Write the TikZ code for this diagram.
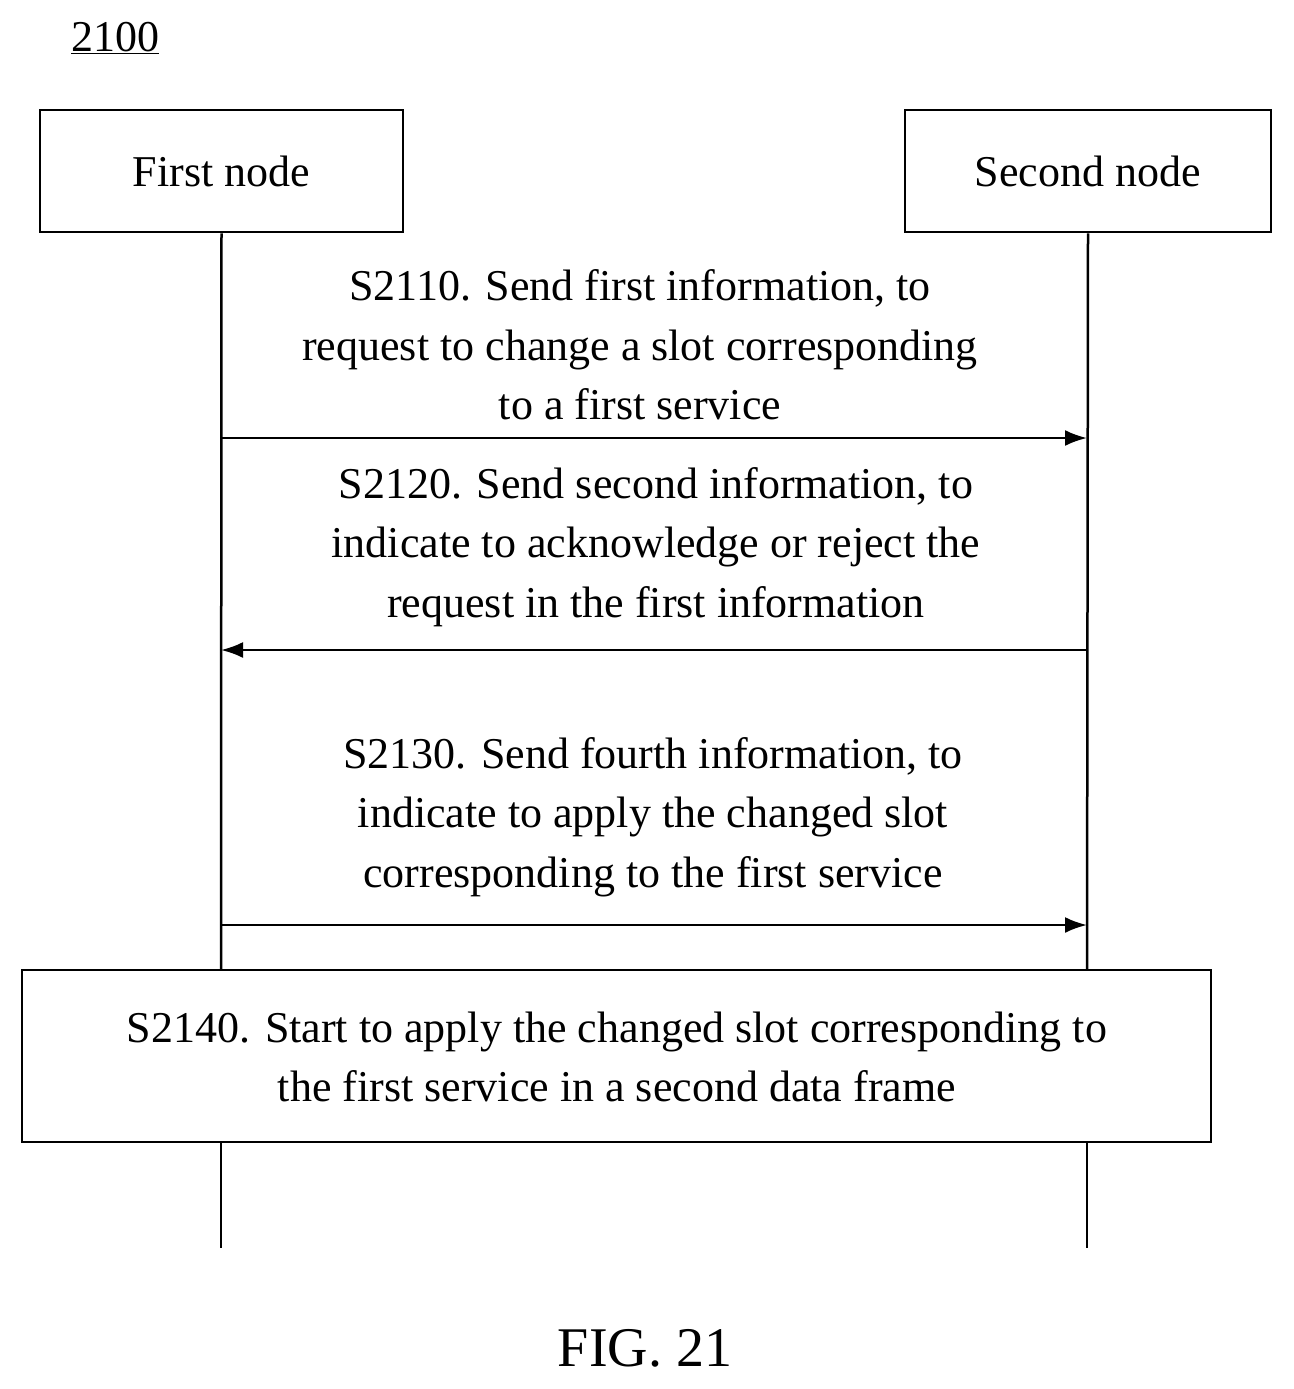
\documentclass[tikz,border=0pt]{standalone}
\usepackage{fontspec}
\usetikzlibrary{arrows.meta}
\setmainfont{Liberation Serif}
\begin{document}
\begin{tikzpicture}[x=1pt,y=-1pt,
  box/.style={draw,line width=2.5pt,inner sep=0pt},
  lbl/.style={font=\fontsize{44}{59.5}\selectfont,align=center},
  life/.style={line width=2.5pt},
  msg/.style={line width=2.5pt,-{Latex[length=22pt,width=16pt]}}]
\useasboundingbox (0,0) rectangle (1293,1389);
\node[font=\fontsize{44}{50}\selectfont] (num) at (115,38) {\underline{2100}};
\node[box,minimum width=363pt,minimum height=122pt,font=\fontsize{44}{50}\selectfont] (a) at (221.5,171) {First node};
\node[box,minimum width=366pt,minimum height=122pt,font=\fontsize{44}{50}\selectfont] (b) at (1088,171) {Second node};
\node[box,minimum width=1189pt,minimum height=172pt] (c) at (616.5,1056) {};
\node[lbl] (ct) at (617,1057) {S2140. Start to apply the changed slot corresponding to\\the first service in a second data frame};
\coordinate (a1) at (221,970); \coordinate (b1) at (1087,970);
\coordinate (a2) at (221,1142); \coordinate (b2) at (1087,1142);
\coordinate (a3) at (221,1248); \coordinate (b3) at (1087,1248);
\draw[life] (a.south) -- (a1); \draw[life] (b.south) -- (b1);
\draw[life] (a2) -- (a3); \draw[life] (b2) -- (b3);
\coordinate (m1a) at (221,438); \coordinate (m1b) at (1087,438);
\coordinate (m2a) at (221,650); \coordinate (m2b) at (1087,650);
\coordinate (m3a) at (221,925); \coordinate (m3b) at (1087,925);
\draw[msg] (m1a) -- (m1b);
\draw[msg] (m2b) -- (m2a);
\draw[msg] (m3a) -- (m3b);
\node[lbl] (t1) at (640,345) {S2110. Send first information, to\\request to change a slot corresponding\\to a first service};
\node[lbl] (t2) at (656,547) {S2120. Send second information, to\\indicate to acknowledge or reject the\\request in the first information};
\node[lbl] (t3) at (653,817) {S2130. Send fourth information, to\\indicate to apply the changed slot\\corresponding to the first service};
\node[font=\fontsize{56}{60}\selectfont] (fig) at (645,1348) {FIG. 21};
\end{tikzpicture}
\end{document}
